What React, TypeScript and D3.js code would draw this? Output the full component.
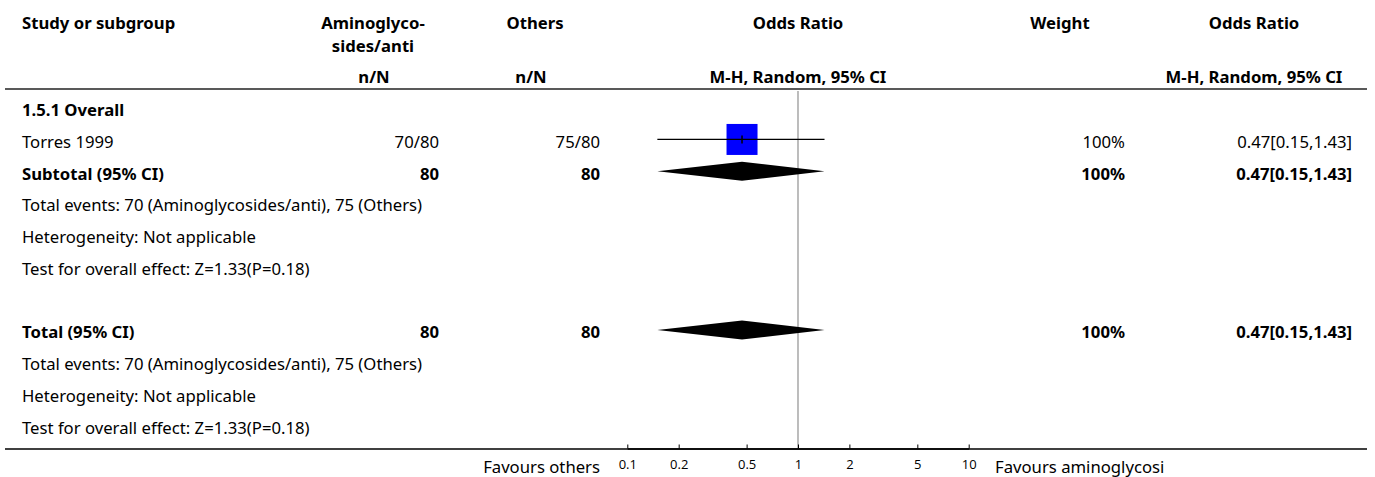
import React, { useEffect, useRef } from 'react';
import * as d3 from 'd3';

// ---- data ----
const studyNames = ['Torres 1999'];
const expEvents = [70];
const expTotals = [80];
const ctrlEvents = [75];
const ctrlTotals = [80];
const studyOR = [0.47];
const studyLower = [0.15];
const studyUpper = [1.43];
const studyWeights = [100];

const subgroupLabel = '1.5.1 Overall';
const pooledOR = [0.47];
const pooledLower = [0.15];
const pooledUpper = [1.43];
const pooledExpTotal = [80];
const pooledCtrlTotal = [80];
const pooledWeight = [100];

const statLines = [
  'Total events: 70 (Aminoglycosides/anti), 75 (Others)',
  'Heterogeneity: Not applicable',
  'Test for overall effect: Z=1.33(P=0.18)',
];
const axisTicks = [0.1, 0.2, 0.5, 1, 2, 5, 10];
const favourLeft = 'Favours others';
const favourRight = 'Favours aminoglycosi';

// ---- layout ----
const W = 1375;
const H = 477;
const FONT = '"Noto Sans", sans-serif';
const FS = 16.7;
const leftX = 22;
const col1R = 439;
const col2R = 600;
const weightR = 1125;
const orR = 1352;
const rowY = (i: number) => 110.5 + 31.75 * i;

const fmtCI = (m: number, l: number, u: number) => `${m.toFixed(2)}[${l.toFixed(2)},${u.toFixed(2)}]`;

export default function App() {
  const x = d3.scaleLog().domain([0.1, 10]).range([627.3, 968.7]);
  const axisRef = useRef<SVGGElement>(null);

  useEffect(() => {
    if (!axisRef.current) return;
    const g = d3.select(axisRef.current);
    g.call(
      d3
        .axisBottom(x)
        .tickValues(axisTicks)
        .tickFormat(d3.format('~g') as any)
        .tickSizeInner(-4)
        .tickSizeOuter(0)
        .tickPadding(11)
    );
    g.select('.domain').attr('stroke', '#000').attr('stroke-width', 1.3);
    g.selectAll('.tick line').attr('stroke', '#000');
    g.selectAll('.tick text')
      .attr('font-family', '"Open Sans", sans-serif')
      .attr('font-size', 13)
      .attr('fill', '#000');
  }, []);

  const txt = (s: string, xx: number, y: number, anchor: string, bold = false, key?: string) => (
    <text key={key} x={xx} y={y} textAnchor={anchor as any} fontWeight={bold ? 700 : 400}>
      {s}
    </text>
  );

  const markOff = -2.8;
  const baseOff = 5.5;
  const headerY1 = 29;
  const headerY2 = 52;
  const headerY3 = 83;

  const rows: JSX.Element[] = [];
  rows.push(txt(subgroupLabel, leftX, rowY(0) + baseOff, 'start', true, 'sg'));
  studyNames.forEach((n, i) => {
    const r = 1 + i;
    const y = rowY(r) + baseOff;
    const cy = rowY(r) + markOff;
    const side = Math.sqrt(studyWeights[i] / 100) * 31;
    rows.push(txt(n, leftX, y, 'start', false, 'n' + i));
    rows.push(txt(`${expEvents[i]}/${expTotals[i]}`, col1R, y, 'end', false, 'e' + i));
    rows.push(txt(`${ctrlEvents[i]}/${ctrlTotals[i]}`, col2R, y, 'end', false, 'c' + i));
    rows.push(txt(`${studyWeights[i]}%`, weightR, y, 'end', false, 'w' + i));
    rows.push(txt(fmtCI(studyOR[i], studyLower[i], studyUpper[i]), orR, y, 'end', false, 'o' + i));
    rows.push(
      <g key={'m' + i}>
        <rect x={x(studyOR[i]) - side / 2} y={cy - side / 2} width={side} height={side} fill="#0000ff" />
        <line x1={x(studyLower[i])} x2={x(studyUpper[i])} y1={cy} y2={cy} stroke="#000" strokeWidth={1.3} />
        <line x1={x(studyOR[i])} x2={x(studyOR[i])} y1={cy - 4} y2={cy + 4} stroke="#000" strokeWidth={1.5} />
      </g>
    );
  });

  const pooledRow = (r: number, label: string, k: string) => {
    const y = rowY(r) + baseOff;
    const cy = rowY(r) + markOff;
    const hh = 9.5;
    const pts = [
      [x(pooledLower[0]), cy],
      [x(pooledOR[0]), cy - hh],
      [x(pooledUpper[0]), cy],
      [x(pooledOR[0]), cy + hh],
    ];
    rows.push(txt(label, leftX, y, 'start', true, k + 'l'));
    rows.push(txt(String(pooledExpTotal[0]), col1R, y, 'end', true, k + 'a'));
    rows.push(txt(String(pooledCtrlTotal[0]), col2R, y, 'end', true, k + 'b'));
    rows.push(txt(`${pooledWeight[0]}%`, weightR, y, 'end', true, k + 'w'));
    rows.push(txt(fmtCI(pooledOR[0], pooledLower[0], pooledUpper[0]), orR, y, 'end', true, k + 'o'));
    rows.push(<path key={k + 'd'} d={'M' + pts.map((p) => p.join(',')).join('L') + 'Z'} fill="#000" />);
  };
  pooledRow(2, 'Subtotal (95% CI)', 'sub');
  statLines.forEach((s, i) => rows.push(txt(s, leftX, rowY(3 + i) + baseOff, 'start', false, 'st' + i)));
  pooledRow(7, 'Total (95% CI)', 'tot');
  statLines.forEach((s, i) => rows.push(txt(s, leftX, rowY(8 + i) + baseOff, 'start', false, 'tt' + i)));

  const axisY = 448.5;

  return (
    <svg
      width={W}
      height={H}
      style={{ position: 'absolute', left: 0, top: 0, background: '#fff' }}
      fontFamily={FONT}
      fontSize={FS}
      fill="#000"
    >
      <g fontWeight={700}>
        {txt('Study or subgroup', leftX, headerY1, 'start', true)}
        {txt('Aminoglyco-', 373, headerY1, 'middle', true)}
        {txt('sides/anti', 373, headerY2, 'middle', true)}
        {txt('n/N', 374, headerY3, 'middle', true)}
        {txt('Others', 535, headerY1, 'middle', true)}
        {txt('n/N', 531, headerY3, 'middle', true)}
        {txt('Odds Ratio', 798, headerY1, 'middle', true)}
        {txt('M-H, Random, 95% CI', 798, headerY3, 'middle', true)}
        {txt('Weight', 1060, headerY1, 'middle', true)}
        {txt('Odds Ratio', 1254, headerY1, 'middle', true)}
        {txt('M-H, Random, 95% CI', 1254, headerY3, 'middle', true)}
      </g>
      <line x1={5} x2={1367} y1={89} y2={89} stroke="#222" strokeWidth={1.4} />

      <line x1={x(1)} x2={x(1)} y1={91} y2={axisY} stroke="#999" strokeWidth={1.3} />

      {rows}

      <line x1={5} x2={1367} y1={axisY + 0.5} y2={axisY + 0.5} stroke="#000" strokeWidth={1.3} />
      <g ref={axisRef} transform={`translate(0,${axisY})`} />
      <text x={600} y={473} textAnchor="end">{favourLeft}</text>
      <text x={995} y={473} textAnchor="start">{favourRight}</text>
    </svg>
  );
}
